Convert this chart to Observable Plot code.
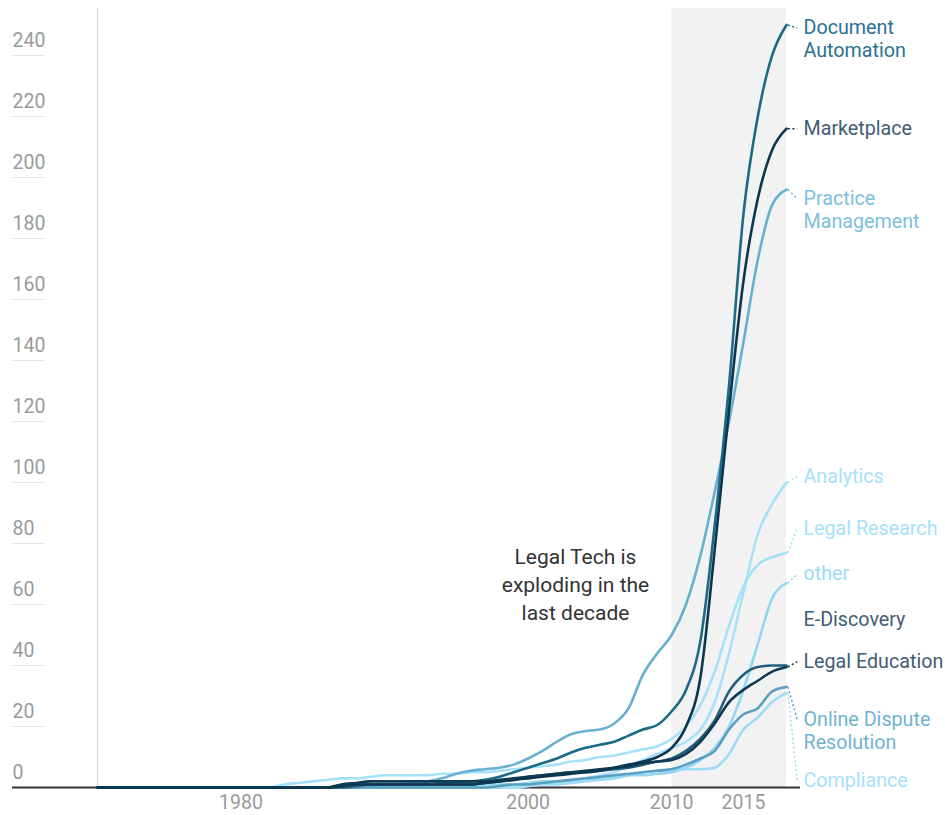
<!DOCTYPE html>
<html>
<head>
<meta charset="utf-8">
<script src="https://cdn.jsdelivr.net/npm/d3@7"></script>
<script src="https://cdn.jsdelivr.net/npm/@observablehq/plot@0.6"></script>
<style>
  html, body { margin: 0; padding: 0; background: #fff; }
  #chart svg { display: block; }
</style>
</head>
<body>
<div id="chart"></div>
<script>
// ---------- DATA ----------
const years = [
  1970,1971,1972,1973,1974,1975,1976,1977,1978,1979,
  1980,1981,1982,1983,1984,1985,1986,1987,1988,1989,
  1990,1991,1992,1993,1994,1995,1996,1997,1998,1999,
  2000,2001,2002,2003,2004,2005,2006,2007,2008,2009,
  2010,2011,2012,2013,2014,2015,2016,2017,2018
];

const documentAutomation = [
  0,0,0,0,0,0,0,0,0,0,
  0,0,0,0,0,0,0,0.5,1,1,
  1,1,1,1,1.5,1.5,2,2.5,3.5,5,
  6.5,8,9.5,11.5,13,14,15,17,19,20.5,
  25,32,48,86,132,188,220,240,250
];
const marketplace = [
  0,0,0,0,0,0,0,0,0,0,
  0,0,0,0,0,0,0,0.5,1,1,
  1,1,1,1,1,1,1,1.5,2,2.5,
  3,3.5,4,4.5,5,5.5,6.5,7.5,8.5,10,
  13,20,36,78,124,166,193,209,216
];
const practiceManagement = [
  0,0,0,0,0,0,0,0,0,0,
  0,0,0,0,0,0,0,0,0,0.5,
  1,1,1.5,2,3,4.5,5.5,6,6.5,7.5,
  9.5,12,15,17.5,18.5,19,21,26,37,44,
  50,60,76,97,120,146,173,191,196
];
const analytics = [
  0,0,0,0,0,0,0,0,0,0,
  0,0,0,0,0,0,0,0,0,0,
  0,0,0,0,0,0,0,0,0,0,
  0.5,1,1.5,2,3,4,5,7,9,11,
  13,15,19,28,44,64,83,93,100
];
const legalResearch = [
  0,0,0,0,0,0,0,0,0,0,
  0,0,0,1,1.5,2,2.5,3,3,3.5,
  4,4,4,4,4.5,4.5,5,5,5.5,6,
  6.5,7,7.5,8.5,9,10,10.5,11.5,12.5,13.5,
  16,20,27,38,53,66,73,75.5,77
];
const other = [
  0,0,0,0,0,0,0,0,0,0,
  0,0,0,0,0,0,0,0,0,0,
  0,0,0,0,0,0,0.5,1,1,1,
  1.5,2,2,2.5,3,3,3.5,4,4,4.5,
  5,6.5,9,13,20,32,47,62,67
];
const eDiscovery = [
  0,0,0,0,0,0,0,0,0,0,
  0,0,0,0,0,0,0,0,0.5,1,
  1,1,1,1,1,1,1,1.5,2,2.5,
  3.5,4,4.5,5,5,5.5,6,6.5,7.5,8.5,
  9.5,12,16,22,31.5,37,39.5,40,40
];
const legalEducation = [
  0,0,0,0,0,0,0,0,0,0,
  0,0,0,0,0,0,0,1,1.5,2,
  2,2,2,2,2,2,2,2,2.5,3,
  3.5,4,4.5,5,5.5,6,6.5,7,8,8.5,
  9,11,15,21,28,32,35,38,39.5
];
const onlineDisputeResolution = [
  0,0,0,0,0,0,0,0,0,0,
  0,0,0,0,0,0,0,0,0,0,
  0,0,0,0,0,0,0,0,0.5,1,
  1,1.5,2,2.5,3,3.5,4,4.5,5,5.5,
  6,7.5,9.5,12,19,24,26,31.5,33
];
const compliance = [
  0,0,0,0,0,0,0,0,0,0,
  0,0,0,0,0,0,0,0,0,0,
  0,0,0,0,0,0,0,0,0,0,
  0.5,1,1,1.5,2,2.5,3,4,5,5.5,
  6,6,6,6.5,11,19,23,28,31
];

const seriesNames = [
  "Document Automation","Marketplace","Practice Management","Analytics",
  "Legal Research","other","E-Discovery","Legal Education",
  "Online Dispute Resolution","Compliance"
];
const seriesValues = [
  documentAutomation, marketplace, practiceManagement, analytics,
  legalResearch, other, eDiscovery, legalEducation,
  onlineDisputeResolution, compliance
];
const labelTexts = [
  "Document\nAutomation","Marketplace","Practice\nManagement","Analytics",
  "Legal Research","other","E-Discovery","Legal Education",
  "Online Dispute\nResolution","Compliance"
];

const yTicks = [0,20,40,60,80,100,120,140,160,180,200,220,240];
const xTicks = [1980, 2000, 2010, 2015];
const highlightPeriod = [{start: 2010, end: 2018}];
const annotation = [{year: 2003.3, value: 67, text: "Legal Tech is\nexploding in the\nlast decade"}];

// ---------- LAYOUT / STYLE (not data) ----------
const labelY = [249, 216, 193, 102, 85, 70, 55, 41.3, 22.3, 2.3];   // dodged label positions
const hasConnector = [true,true,true,true,true,true,false,true,true,true];
const lineColors = ["#1d6a88","#0c3650","#67b0d2","#a6e1fa","#a6e1fa","#91d6f4","#225e7c","#0e3a54","#5b9fc0","#9edbf6"];
const labelColors = ["#2a7091","#3f5d75","#7dc0de","#a6e1fa","#a6e1fa","#9bdaf6","#3f5d75","#3f5d75","#6fb3d3","#a6e1fa"];
const drawOrder = [9, 3, 4, 5, 2, 8, 6, 0, 7, 1];

// ---------- BUILD TABLES ----------
const rows = [];
for (const i of drawOrder) {
  years.forEach((yr, j) => rows.push({series: seriesNames[i], year: yr, value: seriesValues[i][j], color: lineColors[i]}));
}
const lastYear = years[years.length - 1];
const labels = seriesNames.map((s, i) => ({
  series: s, text: labelTexts[i], y: labelY[i], color: labelColors[i],
  end: seriesValues[i][seriesValues[i].length - 1], lineColor: lineColors[i], conn: hasConnector[i]
}));
const connectors = labels.filter(d => d.conn);

const font = "Roboto, 'Noto Sans', sans-serif";

const chart = Plot.plot({
  width: 945,
  height: 815,
  marginTop: 8,
  marginBottom: 28,
  marginLeft: 97,
  marginRight: 159,
  x: {domain: [years[0], lastYear], axis: null},
  y: {domain: [0, 255.4], axis: null},
  color: {type: "identity"},
  style: {fontFamily: font, background: "#fff", overflow: "visible"},
  marks: [
    Plot.rect(highlightPeriod, {x1: "start", x2: "end", fill: "#f2f2f2"}),
    Plot.ruleX([years[0]], {stroke: "#dddddd", strokeWidth: 1.5}),
    Plot.ruleY(yTicks.filter(d => d > 0), {y: d => d, insetLeft: -85, insetRight: 741, stroke: "#e4e4e4", strokeWidth: 1}),
    Plot.text(yTicks, {y: d => d, text: d => String(d), frameAnchor: "left", dx: -85, dy: -15, textAnchor: "start", fill: "#9a9a9a", fontSize: 19.5}),
    Plot.text(xTicks, {x: d => d, text: d => String(d), frameAnchor: "bottom", dy: 21, fill: "#9a9a9a", fontSize: 19.5}),
    Plot.ruleY([0], {insetLeft: -85, insetRight: -14, stroke: "#333", strokeWidth: 2}),
    Plot.line(rows, {x: "year", y: "value", z: "series", stroke: "color", strokeWidth: 2.6, curve: "monotone-x"}),
    Plot.link(connectors, {x1: () => lastYear + 0.1, y1: "end", x2: () => lastYear + 0.75, y2: "y", stroke: "lineColor", strokeWidth: 1.5, strokeDasharray: "2,2.5"}),
    Plot.text(labels, {x: () => lastYear, y: "y", text: "text", dx: 17, lineAnchor: "top", dy: -10, lineHeight: 1.17, textAnchor: "start", fill: "color", fontSize: 19.7}),
    Plot.text(annotation, {x: "year", y: "value", text: "text", fill: "#333", fontSize: 21, lineHeight: 1.33})
  ]
});

document.getElementById("chart").appendChild(chart);
</script>
</body>
</html>
